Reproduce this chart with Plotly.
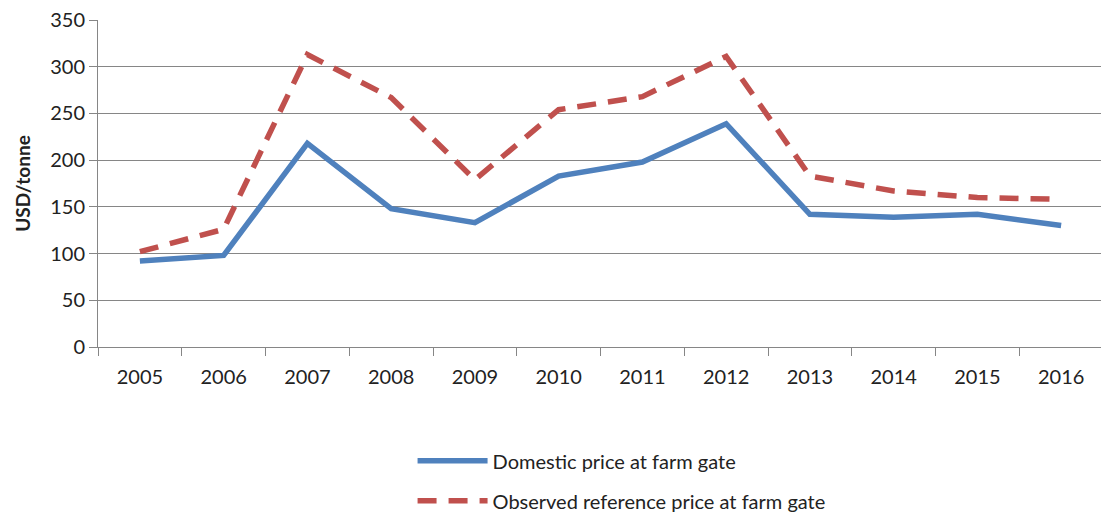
import plotly.graph_objects as go

years = ["2005", "2006", "2007", "2008", "2009", "2010", "2011", "2012", "2013", "2014", "2015", "2016"]
domestic = [92, 98, 218, 148, 133, 183, 198, 239, 142, 139, 142, 130]
reference = [102, 126, 313, 267, 179, 254, 268, 311, 183, 167, 160, 158]

name_dom = "Domestic price at farm gate"
name_ref = "Observed reference price at farm gate"
y_ticks = [0, 50, 100, 150, 200, 250, 300, 350]

FONT = "Lato, Carlito, Calibri, sans-serif"

fig = go.Figure()
fig.add_trace(go.Scatter(x=years, y=domestic, mode="lines", name=name_dom,
                         legendgroup="a",
                         line=dict(color="#4F81BD", width=5.5)))
fig.add_trace(go.Scatter(x=years, y=reference, mode="lines", name=name_ref,
                         legendgroup="b",
                         line=dict(color="#C0504D", width=5.5, dash="19px,12px")))

fig.update_layout(
    width=1109, height=524,
    margin=dict(l=90, r=14, t=12, b=180),
    paper_bgcolor="white", plot_bgcolor="white",
    font=dict(family=FONT, size=20, color="#222222"),
    showlegend=True,
    legend=dict(x=0.313, y=-0.530, xanchor="left", yanchor="bottom",
                orientation="v", tracegroupgap=11, itemwidth=70,
                font=dict(family=FONT, size=20, color="#222222")),
    xaxis=dict(type="category", tickson="boundaries", ticks="outside",
               range=[-0.5, 11.5], automargin=False,
               ticklen=8, tickcolor="#868686", showgrid=False,
               showline=True, linecolor="#868686", linewidth=1,
               ticklabelstandoff=12, tickangle=0,
               tickfont=dict(size=20)),
    yaxis=dict(range=[0, 350], tickvals=y_ticks, ticks="outside", ticklen=8,
               automargin=False, ticklabeloverflow="allow",
               tickcolor="#868686", showgrid=True, gridcolor="#868686",
               gridwidth=1, showline=True, linecolor="#868686", zeroline=False,
               title=dict(text="<b>USD/tonne</b>", font=dict(size=19), standoff=14),
               tickfont=dict(size=20)),
)

fig.write_html("out.html")
